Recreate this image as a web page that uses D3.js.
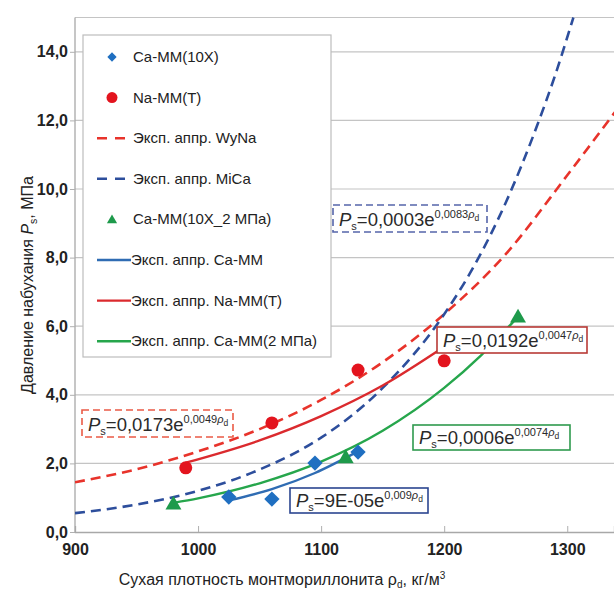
<!DOCTYPE html>
<html>
<head>
<meta charset="utf-8">
<script src="https://cdn.jsdelivr.net/npm/d3@7"></script>
<style>
  body { margin: 0; background: #fff; }
  svg { font-family: "Liberation Sans", Arial, sans-serif; }
</style>
</head>
<body>
<svg id="chart" width="614" height="592"></svg>
<script>
// measured points, [density, pressure]
var caMM10X = [[1025, 1.02], [1060, 0.96], [1095, 2.01], [1130, 2.33]];
var naMMT = [[990, 1.87], [1060, 3.18], [1130, 4.72], [1200, 4.99]];
var caMM2MPa = [[980, 0.85], [1120, 2.2], [1260, 6.3]];

// fitted curves
var fitWyNa = [[900, 1.45], [950, 1.83], [1000, 2.35], [1050, 3.0], [1100, 3.85], [1150, 4.95], [1200, 6.35], [1250, 8.1], [1300, 10.4], [1340, 12.3]];
var fitMiCa = [[900, 0.55], [950, 0.8], [1000, 1.2], [1050, 1.82], [1100, 2.75], [1150, 4.2], [1200, 6.35], [1225, 7.8], [1250, 9.6], [1275, 11.8], [1290, 13.3], [1305, 15.0]];
var fitCaMM = [[1025, 0.92], [1060, 1.25], [1095, 1.72], [1130, 2.35]];
var fitNaMM = [[990, 2.02], [1050, 2.67], [1100, 3.38], [1150, 4.27], [1200, 5.4]];
var fitCaMM2 = [[980, 0.85], [1000, 0.98], [1050, 1.42], [1100, 2.05], [1150, 2.95], [1200, 4.2], [1230, 5.15], [1258, 6.2]];

var yTicks = [0, 2, 4, 6, 8, 10, 12, 14];
var xTicks = [900, 1000, 1100, 1200, 1300];

var legendLabels = ["Ca-MM(10X)", "Na-MM(T)", "Эксп. аппр. WyNa", "Эксп. аппр. MiCa",
  "Ca-MM(10X_2 МПа)", "Эксп. аппр. Ca-MM", "Эксп. аппр. Na-MM(T)", "Эксп. аппр. Ca-MM(2 МПа)"];

// formula labels: coefficient part and exponent factor
var formulaCoef = ["=0,0003e", "=0,0173e", "=0,0192e", "=0,0006e", "=9E-05e"];
var formulaExp = ["0,0083", "0,0049", "0,0047", "0,0074", "0,009"];

(function(){
var C = {
  blueDot: "#1f6fc1", redDot: "#e3141e", greenDot: "#1e9a4b",
  redDash: "#e8332b", blueDash: "#2d4e9c",
  blueLine: "#2f6cb3", redLine: "#db2a2e", greenLine: "#26a64c"
};

var svg = d3.select("#chart");
var pL = 75, pR = 614, pT = 17.5, pB = 532;

var x = d3.scaleLinear().domain([900, 1338]).range([pL, pR]);
var y = d3.scaleLinear().domain([0, 15]).range([pB, pT]);

svg.append("defs").append("clipPath").attr("id", "plot")
  .append("rect").attr("x", pL).attr("y", pT - 2).attr("width", pR - pL).attr("height", pB - pT + 2);

// grid
svg.append("g").selectAll("line").data(yTicks.slice(1).concat([15])).enter()
  .append("line")
  .attr("x1", pL).attr("x2", pR)
  .attr("y1", function(d){ return y(d); }).attr("y2", function(d){ return y(d); })
  .attr("stroke", "#c4c4c4").attr("stroke-width", 1.2);

// axes
var fmt = function(d){ return d3.format(".1f")(d).replace(".", ","); };
var yAxis = svg.append("g").attr("transform", "translate(" + pL + ",0)")
  .call(d3.axisLeft(y).tickValues(yTicks).tickFormat(fmt).tickSize(5).tickPadding(2));
var xAxis = svg.append("g").attr("transform", "translate(0," + pB + ")")
  .call(d3.axisBottom(x).tickValues(xTicks).tickFormat(d3.format("d")).tickSize(-6).tickPadding(12));
[yAxis, xAxis].forEach(function(a){
  a.select(".domain").attr("stroke", "#a8a8a8").attr("stroke-width", 1.3);
  a.selectAll(".tick line").attr("stroke", "#b0b0b0");
  a.selectAll(".tick text").attr("fill", "#222").attr("font-size", 16).attr("font-weight", "bold")
    .attr("font-family", "Liberation Sans, Arial, sans-serif");
});
xAxis.selectAll(".tick").filter(function(d){ return d === 900; }).select("line").remove();
yAxis.select(".domain").attr("d", "M0," + pT + "V" + pB);

// curves
var plot = svg.append("g").attr("clip-path", "url(#plot)");
var line = d3.line().x(function(d){ return x(d[0]); }).y(function(d){ return y(d[1]); }).curve(d3.curveMonotoneX);
function curve(data, color, dash, w) {
  plot.append("path").datum(data).attr("d", line).attr("fill", "none")
    .attr("stroke", color).attr("stroke-width", w).attr("stroke-dasharray", dash);
}
curve(fitWyNa, C.redDash, "10,6", 2.6);
curve(fitMiCa, C.blueDash, "10,6", 2.6);
curve(fitNaMM, C.redLine, null, 2.4);
curve(fitCaMM2, C.greenLine, null, 2.4);
curve(fitCaMM, C.blueLine, null, 2.4);

// markers
var diamond = d3.symbol().type(d3.symbolDiamond2);
var tri = d3.symbol().type(d3.symbolTriangle);
plot.selectAll(".dia").data(caMM10X).enter().append("path")
  .attr("d", diamond.size(150))
  .attr("transform", function(d){ return "translate(" + x(d[0]) + "," + y(d[1]) + ")"; })
  .attr("fill", C.blueDot);
plot.selectAll(".cir").data(naMMT).enter().append("circle")
  .attr("cx", function(d){ return x(d[0]); }).attr("cy", function(d){ return y(d[1]); })
  .attr("r", 6.5).attr("fill", C.redDot);
plot.selectAll(".tri").data(caMM2MPa).enter().append("path")
  .attr("d", tri.size(110))
  .attr("transform", function(d){ return "translate(" + x(d[0]) + "," + (y(d[1]) + 2) + ")"; })
  .attr("fill", C.greenDot);

// formula boxes
var boxes = [
  { x: 333, y: 205, w: 154, h: 27, stroke: "#5565aa", dash: "7,4" },
  { x: 82, y: 410, w: 151, h: 27, stroke: "#ea5a45", dash: "7,4" },
  { x: 437, y: 327, w: 150, h: 26, stroke: "#b83a36", dash: null },
  { x: 413, y: 425, w: 157, h: 25, stroke: "#2f9a4e", dash: null },
  { x: 290, y: 488, w: 138, h: 25, stroke: "#2b4590", dash: null }
];
boxes.forEach(function(b, i){
  var g = svg.append("g").attr("transform", "translate(" + b.x + "," + b.y + ")");
  g.append("rect").attr("width", b.w).attr("height", b.h).attr("fill", "#fff")
    .attr("stroke", b.stroke).attr("stroke-width", 1.6).attr("stroke-dasharray", b.dash);
  var t = g.append("text").attr("x", 6).attr("y", b.h - 6).attr("fill", "#2a2a2a").attr("font-size", 18.5);
  t.append("tspan").attr("font-style", "italic").text("P");
  t.append("tspan").attr("font-size", 11).attr("dy", 4).text("s");
  t.append("tspan").attr("dy", -4).text(formulaCoef[i]);
  t.append("tspan").attr("font-size", 11).attr("dy", -8).text(formulaExp[i]);
  t.append("tspan").attr("font-size", 11).attr("font-style", "italic").text("ρ");
  t.append("tspan").attr("font-size", 8.5).attr("dy", 3).text("d");
});

// legend
var lg = svg.append("g").attr("transform", "translate(83,35)");
lg.append("rect").attr("width", 248).attr("height", 322).attr("fill", "#fff").attr("stroke", "#bdbdbd").attr("stroke-width", 1.2);
var rowY = function(i){ return 22 + i * 40.6; };
legendLabels.forEach(function(lbl, i){
  var yy = rowY(i);
  var row = lg.append("g").attr("transform", "translate(0," + yy + ")");
  var tx = 50;
  if (i === 0) row.append("path").attr("d", diamond.size(55)).attr("transform", "translate(29,0)").attr("fill", C.blueDot);
  if (i === 1) row.append("circle").attr("cx", 29).attr("r", 5.5).attr("fill", C.redDot);
  if (i === 4) row.append("path").attr("d", tri.size(45)).attr("transform", "translate(29,1)").attr("fill", C.greenDot);
  if (i === 2 || i === 3) row.append("line").attr("x1", 14).attr("x2", 42)
    .attr("stroke", i === 2 ? C.redDash : C.blueDash).attr("stroke-width", 2.6).attr("stroke-dasharray", "10,8");
  if (i >= 5) {
    row.append("line").attr("x1", 14).attr("x2", 48)
      .attr("stroke", [C.blueLine, C.redLine, C.greenLine][i - 5]).attr("stroke-width", 2.4);
    tx = 48;
  }
  row.append("text").attr("x", tx).attr("y", 5).attr("font-size", 15).attr("fill", "#222").text(lbl);
});

// axis titles
var yt = svg.append("text").attr("transform", "translate(33,285) rotate(-90)")
  .attr("text-anchor", "middle").attr("font-size", 16).attr("fill", "#222");
yt.append("tspan").text("Давление набухания ");
yt.append("tspan").attr("font-style", "italic").text("P");
yt.append("tspan").attr("font-size", 10.5).attr("dy", 4).text("s");
yt.append("tspan").attr("dy", -4).text(", МПа");

var xt = svg.append("text").attr("x", 282).attr("y", 585)
  .attr("text-anchor", "middle").attr("font-size", 16).attr("fill", "#222");
xt.append("tspan").text("Сухая плотность монтмориллонита ρ");
xt.append("tspan").attr("font-size", 10).attr("dy", 3).text("d");
xt.append("tspan").attr("dy", -3).text(", кг/м");
xt.append("tspan").attr("font-size", 10).attr("dy", -6).text("3");
})();
</script>
</body>
</html>
